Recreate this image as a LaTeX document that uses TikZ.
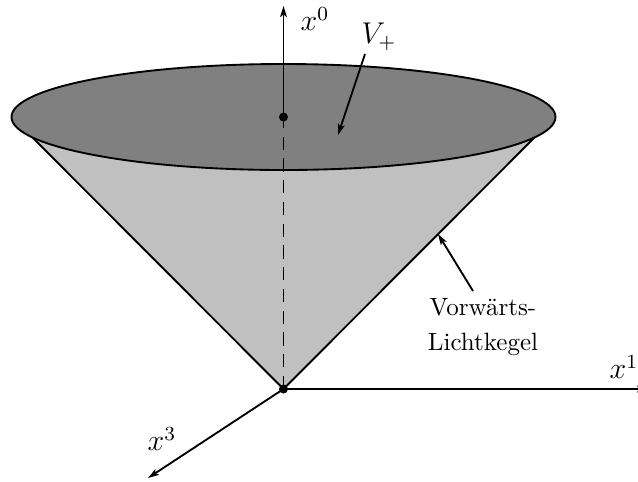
\documentclass[tikz,border=0pt]{standalone}
\usetikzlibrary{arrows.meta}
\definecolor{conegray}{HTML}{C0C0C0}
\definecolor{capgray}{HTML}{808080}
\begin{document}
\begin{tikzpicture}[x=0.4pt,y=-0.4pt,
  >={Stealth[length=4.4pt,width=2.7pt,inset=1pt]},
  line width=0.75pt,
  lbl/.style={inner sep=0pt, font=\fontsize{12}{14}\selectfont},
  txt/.style={inner sep=0pt, font=\fontsize{10}{14}\selectfont, align=center},
  dot/.style={circle, fill=black, inner sep=0pt, minimum size=3.6pt}]
\useasboundingbox (0,0) rectangle (638,481);
\clip (0,0) rectangle (638,481);
\coordinate (O) at (283.5,389);
\coordinate (C) at (283.5,117);
\coordinate (L) at (32,137);
\coordinate (R) at (535,137);
\coordinate (x0end) at (283.5,6);
\coordinate (x1end) at (648,389);
\coordinate (x3end) at (148,478);
% cone
\fill[conegray] (O) -- (L) -- (R) -- cycle;
\draw (O) -- (L);
\draw (O) -- (R);
% top disc
\draw[fill=capgray] (C) ellipse [x radius=272, y radius=53];
% axes
\draw[dash pattern=on 5.3pt off 3.4pt] (O) -- (C);
\draw[->] (C) -- (x0end);
\draw[->] (O) -- (x1end);
\draw[->] (O) -- (x3end);
\node[dot] (dO) at (O) {};
\node[dot] (dC) at (C) {};
% labels
\node[lbl] (lx0) at (315,19) {$x^0$};
\node[lbl] (lx1) at (624,367) {$x^1$};
\node[lbl] (lx3) at (162,439) {$x^3$};
\node[lbl] (lV) at (379,37) {$V_+$};
\node[txt] (lK) at (483,327) {Vorwärts-\\Lichtkegel};
\coordinate (vtip) at (338,135);
\coordinate (ktip) at (438,234);
\draw[->] (365,54) -- (vtip);
\draw[->] (473,291) -- (ktip);
\end{tikzpicture}
\end{document}
